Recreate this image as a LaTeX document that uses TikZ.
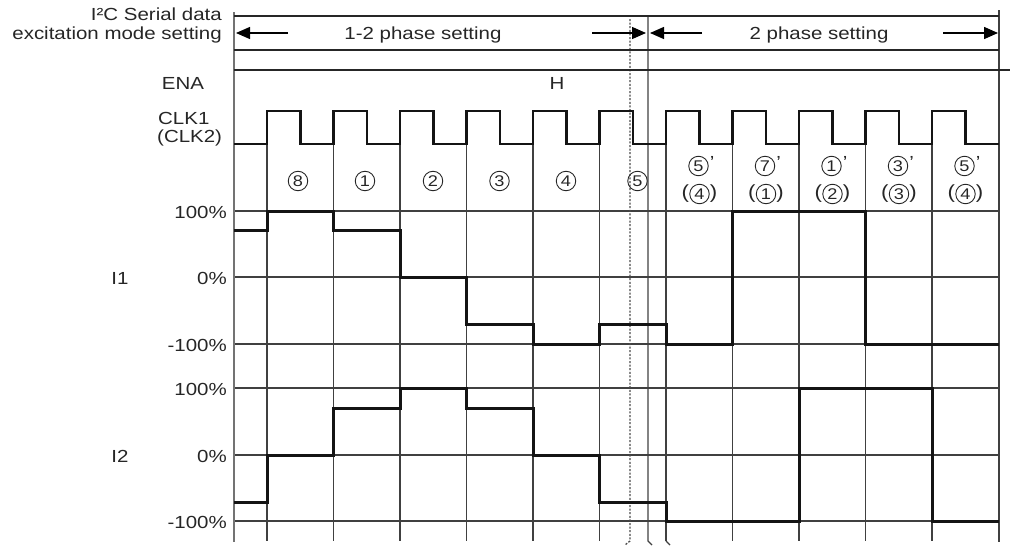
\documentclass[tikz,border=0pt]{standalone}
\usepackage{fontspec}
\setmainfont[FakeStretch=1.17]{Liberation Sans}
\usetikzlibrary{arrows.meta}
\begin{document}
\begin{tikzpicture}[x=1pt,y=-1pt,
  gridline/.style={line width=1.2pt, draw=black!75},
  border/.style={line width=2pt, draw=black!55},
  frameline/.style={line width=2.6pt, draw=black!85},
  wave/.style={line width=3pt, draw=black!92, line join=miter},
  lbl/.style={font=\fontsize{17.5}{20}\selectfont, inner sep=0pt, text=black!85},
  cnum/.style={circle, draw=black!85, line width=0.9pt, minimum size=19.5pt,
     inner sep=0pt, font=\fontsize{15.5}{16}\selectfont, text=black!85},
  paren/.style={inner sep=0pt, font=\fontsize{19}{22}\selectfont, text=black!85},
  prm/.style={inner sep=0pt, font=\fontsize{17.5}{20}\selectfont, text=black!85,
     anchor=north west, yshift=10pt, xshift=1pt},
  dimarrow/.style={line width=1.4pt, draw=black, -{Triangle[length=14pt,width=12pt]}},
  dotline/.style={line width=1.3pt, draw=black!70, dash pattern=on 2pt off 1.6pt},
]
\useasboundingbox (0,0) rectangle (1010,546);

% ---------- grid ----------
\foreach \y in {211,277,344,388,455,521}
  \draw[gridline] (234,\y) -- (999,\y);
\foreach \k in {0,...,10}
  \draw[gridline] ({267+66.5*\k},144) -- ({267+66.5*\k},541);
% break ticks at bottom
\draw[gridline] (666,541) -- (670,545);
\draw[gridline] (648,16) -- (648,541) -- (652,545);
\draw[dotline] (630,19) -- (630,541) -- (625,545);

% borders and top rows
\draw[border] (234,12) -- (234,542);
\draw[gridline] (999,10) -- (999,542);
\draw[frameline] (234,16) -- (999,16);
\draw[frameline] (234,50) -- (999,50);
\draw[frameline] (234,70) -- (1010,70);

% dimension arrows
\coordinate (a1s) at (288,33);  \coordinate (a1e) at (236,33);
\coordinate (a2s) at (592,33);  \coordinate (a2e) at (646,33);
\coordinate (a3s) at (702,33);  \coordinate (a3e) at (650,33);
\coordinate (a4s) at (943,33);  \coordinate (a4e) at (998,33);
\draw[dimarrow] (a1s) -- (a1e);
\draw[dimarrow] (a2s) -- (a2e);
\draw[dimarrow] (a3s) -- (a3e);
\draw[dimarrow] (a4s) -- (a4e);

% ---------- clock ----------
\draw[wave, line width=2.6pt] (234,144)
  \foreach \k in {0,...,10} { -- ({267+66.5*\k},144) -- ({267+66.5*\k},111)
     -- ({300.3+66.5*\k},111) -- ({300.3+66.5*\k},144) } -- (999,144);

% ---------- I1 ----------
\draw[wave] (234,230) -- (267,230) -- (267,211) -- (333.5,211) -- (333.5,230)
  -- (400,230) -- (400,277) -- (466.5,277) -- (466.5,324) -- (533,324)
  -- (533,344) -- (599.5,344) -- (599.5,324) -- (666,324) -- (666,344)
  -- (732.5,344) -- (732.5,211) -- (865.5,211) -- (865.5,344) -- (999,344);

% ---------- I2 ----------
\draw[wave] (234,502) -- (267,502) -- (267,455) -- (333.5,455) -- (333.5,408)
  -- (400,408) -- (400,388) -- (466.5,388) -- (466.5,408) -- (533,408)
  -- (533,455) -- (599.5,455) -- (599.5,502) -- (666,502) -- (666,521)
  -- (799,521) -- (799,388) -- (932,388) -- (932,521) -- (999,521);

% ---------- labels ----------
\node[lbl, anchor=base east] (i2c) at (222,20.5) {I²C Serial data};
\node[lbl, anchor=base east] (exc) at (222,39.5) {excitation mode setting};
\node[lbl, anchor=base] (ph12) at (423,39.5) {1-2 phase setting};
\node[lbl, anchor=base] (ph2) at (819,39.5) {2 phase setting};
\node[lbl, anchor=base] (ena) at (183,89.5) {ENA};
\node[lbl, anchor=base] (hh) at (557,89.5) {H};
\node[lbl, anchor=base west] (clk1) at (158,124.5) {CLK1};
\node[lbl, anchor=base west] (clk2) at (157,142) {(CLK2)};

\node[lbl, anchor=base east] (p1a) at (227,218.5) {100\%};
\node[lbl, anchor=base east] (p1b) at (227,284.5) {0\%};
\node[lbl, anchor=base east] (p1c) at (227,351.5) {-100\%};
\node[lbl, anchor=base east] (p2a) at (227,395.5) {100\%};
\node[lbl, anchor=base east] (p2b) at (227,462.5) {0\%};
\node[lbl, anchor=base east] (p2c) at (227,528.5) {-100\%};
\node[lbl, anchor=base] (i1) at (120,284.5) {I1};
\node[lbl, anchor=base] (i2) at (120,462.5) {I2};

% step numbers (1-2 phase)
\node[cnum] (s8) at (298,181) {8};
\node[cnum] (s1) at (365,181) {1};
\node[cnum] (s2) at (433,181) {2};
\node[cnum] (s3) at (499.5,181) {3};
\node[cnum] (s4) at (566,181) {4};
\node[cnum] (s5) at (637.5,181) {5};

% step numbers (2 phase)
\foreach \n/\d/\e [count=\i from 0] in {t1/5/4, t2/7/1, t3/1/2, t4/3/3, t5/5/4} {
  \node[cnum] (\n) at ({698.5+66.5*\i},166) {\d};
  \node[prm] (\n p) at (\n.east) {’};
  \node[cnum] (\n u) at ({699.5+66.5*\i},194) {\e};
  \node[paren, anchor=east] (\n l) at (\n u.west) {(};
  \node[paren, anchor=west] (\n r) at (\n u.east) {)};
}
\end{tikzpicture}
\end{document}
